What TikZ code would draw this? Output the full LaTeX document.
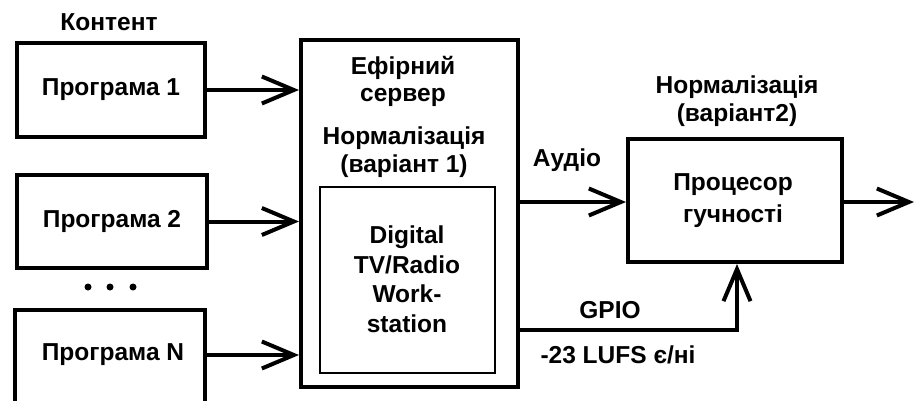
\documentclass[tikz,border=0pt]{standalone}
\usepackage{fontspec}
\setmainfont{Liberation Sans}
\usetikzlibrary{arrows.meta}
\begin{document}
\begin{tikzpicture}[x=1pt,y=-1pt,
  lbl/.style={font=\fontsize{24.5}{28}\selectfont\bfseries, inner sep=0pt, align=center},
  blk/.style={draw, line width=4pt, inner sep=0pt},
  flow/.style={line width=4pt, -{Straight Barb[length=32pt,width=27pt]}}]
  \useasboundingbox (0,0) rectangle (915,401);
  \clip (0,0) rectangle (915,401);
  \fill[white] (0,0) rectangle (915,401);

  % source programmes
  \node[lbl] (content) at (109,22) {Контент};
  \node[blk, minimum width=188pt, minimum height=94pt] (p1) at (111,90) {};
  \node[lbl] at (p1.center) {Програма 1};
  \node[blk, minimum width=190pt, minimum height=93pt] (p2) at (112,221.5) {};
  \node[lbl] at (p2.center) {Програма 2};
  \foreach \x [count=\i] in {88,110,133}
    \fill (\x,287) circle (3.5pt) coordinate (dot\i);
  \node[blk, minimum width=190pt, minimum height=110pt] (pn) at (110,365) {};
  \node[lbl] (pnt) at (113,355) {Програма N};

  % broadcast server with the workstation inside
  \node[blk, minimum width=217pt, minimum height=347pt] (srv) at (409.5,213.5) {};
  \node[draw, line width=2.6pt, minimum width=175pt, minimum height=186pt] (ws) at (407.5,280) {};
  \node[lbl, font=\fontsize{24.5}{27}\selectfont\bfseries] (srvt) at (403,81) {Ефірний\\сервер};
  \node[lbl] (norm1) at (404,152) {Нормалізація\\(варіант 1)};
  \node[lbl, font=\fontsize{24.5}{29.5}\selectfont\bfseries] (wst) at (407,279) {Digital\\TV/Radio\\Work-\\station};

  % loudness processor
  \node[blk, minimum width=214pt, minimum height=123pt] (proc) at (735,200.5) {};
  \node[lbl, font=\fontsize{24.5}{32}\selectfont\bfseries] (proct) at (733,201) {Процесор\\гучності};
  \node[lbl] (norm2) at (737,101) {Нормалізація\\(варіант2)};

  % signal flow
  \draw[flow] (p1.east) -- (p1.east -| srv.west);
  \draw[flow] (p2.east) -- (p2.east -| srv.west);
  \draw[flow] (pnt.east -| pn.east) -- (pnt.east -| srv.west);
  \coordinate (aud) at (srv.east |- 0,202);
  \draw[flow] (aud) -- (aud -| proc.west);
  \coordinate (out) at (914,202);
  \draw[flow] (proc.east |- out) -- (out);
  \coordinate (gpio) at (srv.east |- 0,330);
  \draw[flow] (gpio) -| (proc.south -| 737,0);

  \node[lbl] (audt) at (567,160) {Аудіо};
  \node[lbl] (gpiot) at (610,310) {GPIO};
  \node[lbl] (lufs) at (618,355) {-23 LUFS є/ні};
\end{tikzpicture}
\end{document}
